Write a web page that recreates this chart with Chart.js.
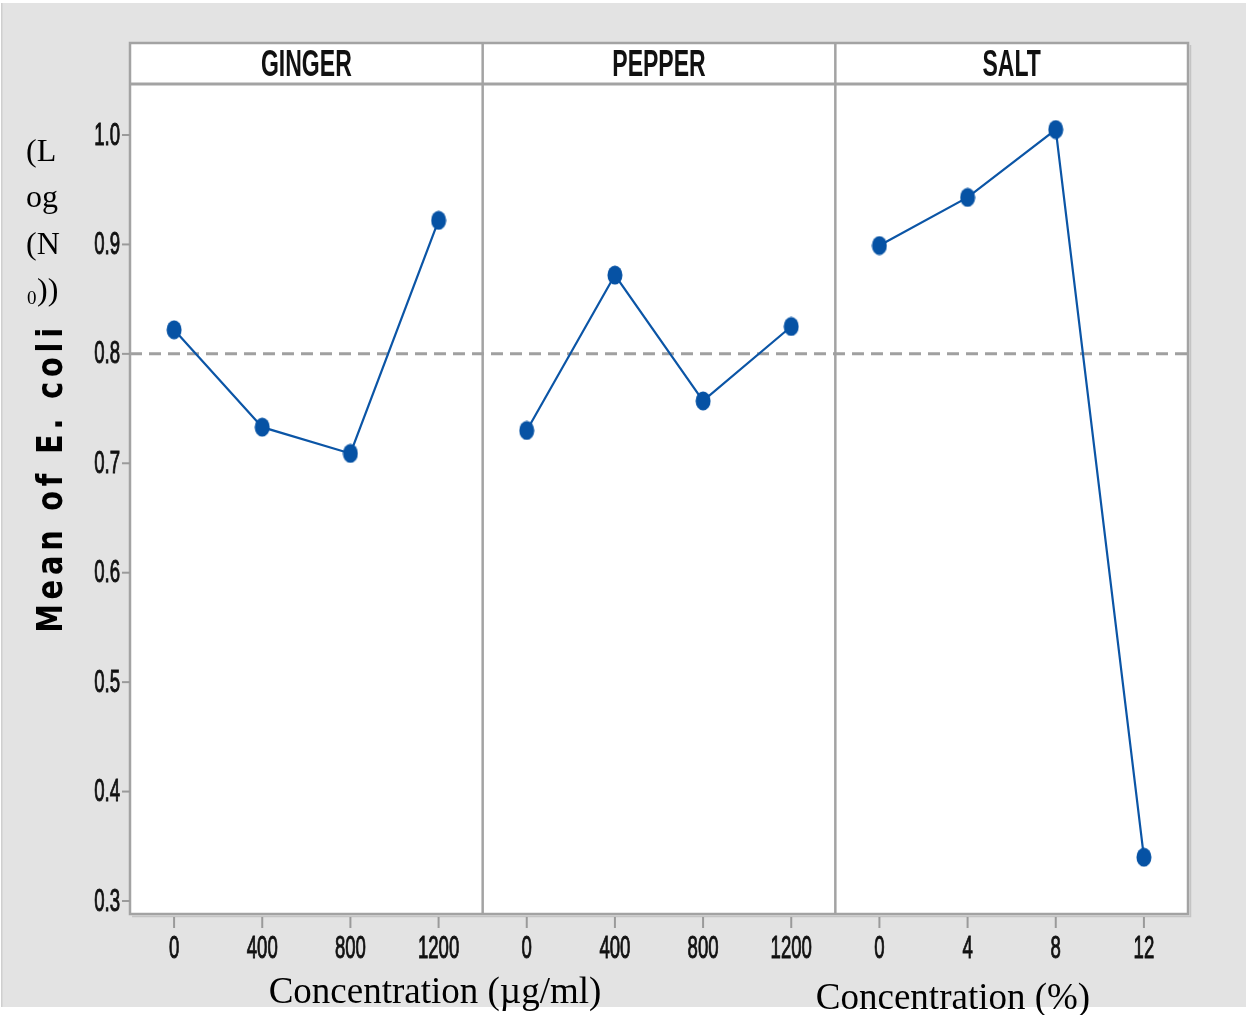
<!DOCTYPE html>
<html>
<head>
<meta charset="utf-8">
<script src="https://cdn.jsdelivr.net/npm/chart.js@4.4.1/dist/chart.umd.min.js"></script>
<style>
  html, body { margin: 0; padding: 0; background: #ffffff; }
  #wrap { position: relative; width: 1247px; height: 1015px; }
  canvas { display: block; }
</style>
</head>
<body>
<div id="wrap"><canvas id="c" width="1247" height="1015"></canvas></div>
<script>
// ---- data ----
const panelNames = ['GINGER', 'PEPPER', 'SALT'];
const gingerLabels = ['0', '400', '800', '1200'];
const pepperLabels = ['0', '400', '800', '1200'];
const saltLabels = ['0', '4', '8', '12'];
const gingerMeans = [0.822, 0.733, 0.709, 0.922];
const pepperMeans = [0.730, 0.872, 0.757, 0.825];
const saltMeans = [0.899, 0.943, 1.005, 0.340];
const referenceMean = 0.8;
const yTickValues = [0.3, 0.4, 0.5, 0.6, 0.7, 0.8, 0.9, 1.0];
const yTickLabels = ['0.3', '0.4', '0.5', '0.6', '0.7', '0.8', '0.9', '1.0'];
const xTitleLeft = 'Concentration (\u00b5g/ml)';
const xTitleRight = 'Concentration (%)';
const yTitle = 'Mean of E. coli';

const allXLabels = gingerLabels.concat(pepperLabels, saltLabels);
const nPer = gingerLabels.length;
function toPoints(vals, panelIndex) {
  return vals.map((v, i) => ({ x: panelIndex * nPer + i + 0.5, y: v }));
}

const BLUE = '#0b55a6';
const FRAME = '#a3a3a3';

// elongated marker
const marker = document.createElement('canvas');
marker.width = 16; marker.height = 20;
(function () {
  const m = marker.getContext('2d');
  m.fillStyle = '#0652a4';
  m.beginPath();
  m.ellipse(8, 10, 7.5, 9.5, 0, 0, Math.PI * 2);
  m.fill();
})();

function sText(ctx, txt, x, y, sx, align, stroke) {
  ctx.save();
  ctx.translate(x, y);
  ctx.scale(sx, 1);
  ctx.textAlign = align;
  ctx.fillText(txt, 0, 0);
  if (stroke) { ctx.lineWidth = stroke; ctx.strokeStyle = ctx.fillStyle; ctx.strokeText(txt, 0, 0); }
  ctx.restore();
}

const decor = {
  id: 'decor',
  beforeDraw(chart) {
    const ctx = chart.ctx, a = chart.chartArea;
    ctx.save();
    ctx.fillStyle = '#ffffff';
    ctx.fillRect(0, 0, chart.width, chart.height);
    ctx.fillStyle = '#e3e3e3';
    ctx.fillRect(2, 3, 1244, 1004);
    ctx.fillStyle = '#cfcfcf';
    ctx.fillRect(1, 3, 1.5, 1004);
    ctx.fillStyle = '#ffffff';
    ctx.fillRect(a.left, 43, a.right - a.left, a.bottom - 43);
    ctx.strokeStyle = FRAME;
    ctx.lineWidth = 2.5;
    const xs = chart.scales.x;
    for (let p = 1; p < panelNames.length; p++) {
      const px = xs.getPixelForValue(p * nPer);
      ctx.beginPath(); ctx.moveTo(px, 43); ctx.lineTo(px, a.bottom); ctx.stroke();
    }
    ctx.restore();
  },
  afterDraw(chart) {
    const ctx = chart.ctx, a = chart.chartArea;
    const xs = chart.scales.x, ys = chart.scales.y;
    ctx.save();
    ctx.strokeStyle = '#c4c4c4';
    ctx.lineWidth = 1.5;
    ctx.beginPath(); ctx.moveTo(a.right + 2.5, 45); ctx.lineTo(a.right + 2.5, a.bottom + 2.5); ctx.lineTo(a.left + 2, a.bottom + 2.5); ctx.stroke();
    ctx.strokeStyle = FRAME;
    ctx.lineWidth = 2.5;
    ctx.strokeRect(a.left, 43, a.right - a.left, a.bottom - 43);
    ctx.lineWidth = 3;
    ctx.beginPath(); ctx.moveTo(a.left, 84); ctx.lineTo(a.right, 84); ctx.stroke();

    // header names
    ctx.fillStyle = '#111111';
    ctx.font = 'bold 36px "Liberation Sans", Arial, sans-serif';
    ctx.textBaseline = 'middle';
    for (let p = 0; p < panelNames.length; p++) {
      const cx = (xs.getPixelForValue(p * nPer) + xs.getPixelForValue((p + 1) * nPer)) / 2;
      sText(ctx, panelNames[p], cx, 66, 0.64, 'center');
    }

    // y ticks
    ctx.strokeStyle = '#9a9a9a';
    ctx.lineWidth = 2;
    ctx.font = '31px "Liberation Sans", Arial, sans-serif';
    ctx.textBaseline = 'middle';
    yTickValues.forEach((v, i) => {
      const py = ys.getPixelForValue(v);
      ctx.strokeStyle = '#9a9a9a'; ctx.lineWidth = 2;
      ctx.beginPath(); ctx.moveTo(a.left - 8, py); ctx.lineTo(a.left, py); ctx.stroke();
      sText(ctx, yTickLabels[i], a.left - 10, py + 1, 0.6, 'right', 1);
    });

    // x ticks
    ctx.font = '32px "Liberation Sans", Arial, sans-serif';
    allXLabels.forEach((lab, i) => {
      const px = xs.getPixelForValue(i + 0.5);
      ctx.strokeStyle = '#9a9a9a'; ctx.lineWidth = 2;
      ctx.beginPath(); ctx.moveTo(px, a.bottom + 3); ctx.lineTo(px, a.bottom + 14); ctx.stroke();
      sText(ctx, lab, px, 949, 0.58, 'center', 1);
    });

    // x titles
    ctx.fillStyle = '#000000';
    ctx.font = '37px "Liberation Serif", "Times New Roman", serif';
    ctx.textBaseline = 'alphabetic';
    ctx.textAlign = 'center';
    ctx.fillText(xTitleLeft, 435, 1003);
    ctx.fillText(xTitleRight, 953, 1009);

    // y title
    ctx.save();
    ctx.translate(62, 478);
    ctx.rotate(-Math.PI / 2);
    ctx.font = 'bold 36px "DejaVu Sans", Verdana, sans-serif';
    ctx.letterSpacing = '6px';
    ctx.scale(0.8, 1);
    ctx.textAlign = 'center';
    ctx.fillStyle = '#000000';
    ctx.fillText(yTitle, 0, 0);
    ctx.restore();

    // serif unit fragments
    ctx.font = '32px "Liberation Serif", "Times New Roman", serif';
    ctx.textAlign = 'left';
    ctx.textBaseline = 'alphabetic';
    ctx.fillText('(L', 26, 161);
    ctx.fillText('og', 26, 207);
    ctx.fillText('(N', 26, 254);
    ctx.font = '19px "Liberation Serif", "Times New Roman", serif';
    ctx.fillText('0', 27, 304);
    ctx.font = '32px "Liberation Serif", "Times New Roman", serif';
    ctx.fillText('))', 37, 300);
    ctx.restore();
  }
};

const lineDs = (label, pts) => ({
  label, data: pts, borderColor: BLUE, backgroundColor: BLUE,
  borderWidth: 2.2, pointRadius: 8, pointHoverRadius: 8,
  pointStyle: marker, tension: 0, order: 0, clip: false
});

new Chart(document.getElementById('c'), {
  type: 'line',
  data: {
    datasets: [
      lineDs(panelNames[0], toPoints(gingerMeans, 0)),
      lineDs(panelNames[1], toPoints(pepperMeans, 1)),
      lineDs(panelNames[2], toPoints(saltMeans, 2)),
      {
        label: 'ref',
        data: [{ x: 0, y: referenceMean }, { x: panelNames.length * nPer, y: referenceMean }],
        borderColor: '#a0a0a0', borderWidth: 3, borderDash: [12, 7],
        pointRadius: 0, order: 10
      }
    ]
  },
  options: {
    responsive: false,
    animation: false,
    devicePixelRatio: 1,
    layout: { padding: { left: 0, right: 59, top: 85, bottom: 0 } },
    plugins: { legend: { display: false }, tooltip: { enabled: false }, title: { display: false } },
    scales: {
      x: {
        type: 'linear', min: 0, max: panelNames.length * nPer,
        grid: { display: false }, border: { display: false },
        ticks: { display: false },
        afterFit(s) { s.height = 101; }
      },
      y: {
        type: 'linear', min: 0.2881, max: 1.0457,
        grid: { display: false }, border: { display: false },
        ticks: { display: false },
        afterFit(s) { s.width = 130; }
      }
    }
  },
  plugins: [decor]
});
</script>
</body>
</html>
